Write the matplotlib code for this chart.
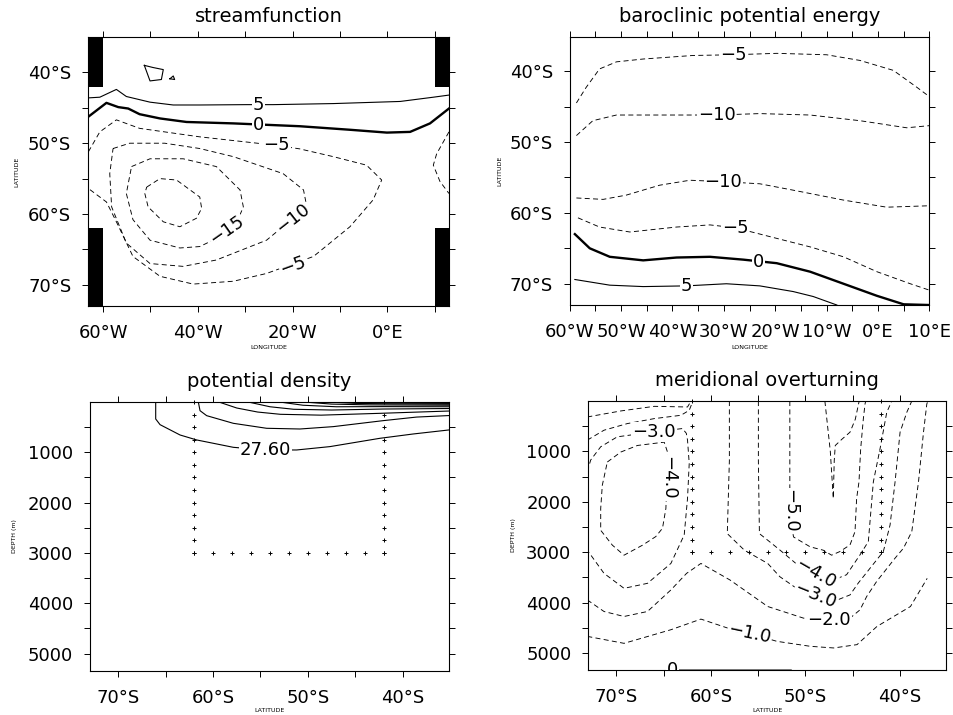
import matplotlib
matplotlib.use("Agg")
import matplotlib.pyplot as plt

plt.rcParams['font.family'] = ['DejaVu Sans']
plt.rcParams['lines.scale_dashes'] = False

# ---------------- streamfunction (lon, lat) ----------------
sf_c5 = [(-63.2, -43.6), (-60.7, -43.5), (-57.2, -42.4), (-55.1, -43.4), (-50.1, -44.2), (-45.2, -44.6),
         (-39.6, -44.6), (-29.7, -44.55), (-24.1, -44.55), (-11.4, -44.4), (2.7, -44.1), (9.7, -43.5), (13.0, -43.2)]
sf_c0 = [(-63.2, -46.3), (-59.3, -44.3), (-56.8, -44.9), (-54.7, -45.1), (-52.3, -45.9), (-48.0, -46.5),
         (-42.4, -47.0), (-32.5, -47.2), (-18.5, -47.6), (-7.9, -48.1), (-0.1, -48.5), (4.8, -48.4),
         (9.0, -47.2), (13.0, -45.1)]
sf_cm5 = [(-63.1, -51.2), (-60.7, -48.4), (-57.2, -46.7), (-52.3, -47.9), (-39.6, -49.1), (-23.4, -50.3),
          (-18.5, -50.8), (-11.4, -51.9), (-4.4, -53.1), (-1.2, -55.2), (-3.0, -58.0), (-7.9, -61.8),
          (-15.6, -66.0), (-25.5, -68.4), (-32.5, -69.5), (-41.0, -69.9), (-48.0, -68.8), (-53.7, -66.0),
          (-57.2, -61.1), (-59.3, -58.3), (-63.1, -56.4)]
sf_cm10 = [(-57.9, -50.75), (-54.4, -50.0), (-47.0, -50.0), (-39.6, -50.75), (-32.5, -51.9), (-22.0, -54.3),
           (-17.7, -56.6), (-17.0, -59.0), (-19.9, -60.6), (-25.5, -63.7), (-36.1, -66.5), (-43.1, -67.4),
           (-50.1, -67.0), (-55.1, -64.1), (-58.2, -59.0), (-58.6, -54.3), (-57.9, -50.75)]
sf_cm15 = [(-54.0, -53.3), (-50.1, -52.2), (-43.1, -52.2), (-36.1, -53.3), (-31.1, -56.6), (-30.4, -59.0),
           (-32.5, -62.3), (-39.6, -64.6), (-43.8, -64.8), (-50.1, -63.7), (-53.7, -60.8), (-55.1, -57.1),
           (-54.0, -53.3)]
sf_cm20 = [(-50.8, -56.2), (-48.0, -55.0), (-44.5, -55.2), (-39.6, -57.6), (-39.2, -59.2), (-40.3, -60.6),
           (-43.8, -61.8), (-47.3, -61.1), (-50.5, -59.0), (-51.2, -57.1), (-50.8, -56.2)]
sf_east = [(13.0, -48.4), (10.4, -51.5), (9.7, -53.1), (11.1, -55.4), (13.0, -57.1)]
sf_island = [(-51.3, -39.0), (-49.5, -39.3), (-47.3, -39.6), (-47.7, -41.0), (-50.1, -41.2), (-51.3, -39.0)]
sf_islet = [(-45.9, -40.9), (-45.2, -40.5), (-44.9, -41.0), (-45.9, -40.9)]
sf_land_lon = [(-63.2, -60.0), (10.0, 13.0)]
sf_land_lat = [(-42.0, -35.0), (-73.0, -62.0)]
sf_labels = [("5", -27.25, -44.65, 0), ("0", -27.25, -47.46, 0), ("\u22125", -23.4, -50.2, 0),
             ("\u221215", -33.9, -62.2, 35), ("\u221210", -19.9, -60.6, 38), ("\u22125", -19.9, -67.3, 20)]

# ---------------- baroclinic potential energy (lon, lat) ----------------
bpe_m5a = [(-58.7, -44.5), (-56.8, -42.3), (-54.2, -39.7), (-50.9, -38.7), (-45.7, -38.3), (-36.0, -37.8),
           (-28.2, -37.7), (-19.7, -37.5), (-10.0, -37.7), (-3.5, -38.5), (3.0, -39.9), (7.6, -42.3), (10.0, -43.6)]
bpe_m10a = [(-58.7, -49.1), (-55.5, -47.0), (-50.9, -46.2), (-42.5, -46.2), (-31.4, -46.2), (-23.0, -46.0),
            (-13.2, -46.2), (-3.5, -47.0), (5.6, -48.0), (10.0, -47.7)]
bpe_m10b = [(-58.7, -57.9), (-53.5, -58.1), (-49.0, -57.5), (-42.5, -56.1), (-36.6, -55.4), (-30.1, -55.6),
            (-23.0, -55.9), (-16.5, -56.8), (-6.7, -58.2), (1.7, -59.2), (10.0, -59.0)]
bpe_m5b = [(-58.4, -60.7), (-54.2, -62.0), (-48.3, -62.7), (-39.2, -62.0), (-32.7, -61.7), (-27.8, -62.1),
           (-19.7, -63.6), (-13.2, -64.8), (-6.7, -66.2), (-0.2, -68.3), (6.3, -70.0), (10.0, -70.9)]
bpe_c0 = [(-59.0, -63.0), (-56.1, -65.0), (-52.2, -66.2), (-45.7, -66.7), (-39.2, -66.3), (-32.7, -66.2),
          (-26.2, -66.6), (-19.7, -67.1), (-13.2, -68.3), (-6.7, -70.0), (-0.2, -71.7), (5.0, -72.9), (10.0, -73.0)]
bpe_c5 = [(-59.0, -69.4), (-52.2, -70.2), (-45.7, -70.4), (-37.3, -70.3), (-29.5, -70.0), (-23.0, -70.3),
          (-16.5, -71.1), (-12.6, -71.8), (-8.0, -73.0)]
bpe_labels = [("\u22125", -28.2, -37.8, 0), ("\u221210", -31.4, -46.15, 0), ("\u221210", -30.1, -55.6, 0),
              ("\u22125", -27.8, -62.1, 0), ("0", -23.3, -66.9, 0), ("5", -37.3, -70.3, 0)]

# ---------------- potential density (lat, depth) ----------------
rho_a = [(-66.06, 0), (-66.06, 338), (-65.6, 451), (-63.49, 656), (-61.73, 755), (-59.98, 821), (-57.87, 901),
         (-54.52, 954), (-51.18, 954), (-47.66, 887), (-42.39, 722), (-38.87, 636), (-35.1, 556)]
rho_b = [(-61.56, 0), (-61.38, 173), (-60.68, 272), (-57.87, 424), (-54.35, 523), (-50.83, 537),
         (-47.31, 490), (-42.04, 371), (-38.52, 300), (-35.1, 270)]
rho_c = [(-59.4, 0), (-57.5, 120), (-55.3, 200), (-52.9, 245), (-48.6, 262), (-42.3, 225), (-35.1, 180)]
rho_d = [(-56.3, 0), (-54.0, 95), (-51.5, 145), (-47.5, 160), (-42.0, 140), (-35.1, 130)]
rho_e = [(-53.0, 0), (-50.5, 65), (-47.0, 95), (-42.0, 92), (-35.1, 95)]
rho_f = [(-50.5, 0), (-47.5, 42), (-43.5, 58), (-35.1, 65)]
rho_g = [(-48.0, 0), (-45.0, 28), (-41.0, 38), (-35.1, 45)]
rho_h = [(-46.0, 0), (-43.0, 18), (-35.1, 28)]
rho_i = [(-44.0, 0), (-41.0, 10), (-35.1, 15)]
rho_labels = [("27.60", -54.5, 954, 0)]

# ---------------- meridional overturning (lat, depth) ----------------
moc_m1a = [(-73.08, 316), (-69.54, 197), (-66.0, 105), (-62.47, 118), (-62.1, 0)]
moc_m2a = [(-73.08, 776), (-71.31, 579), (-68.83, 447), (-66.0, 349), (-63.17, 283), (-62.29, 184), (-61.9, 0)]
moc_m3a = [(-73.08, 1400), (-72.72, 1171), (-71.66, 908), (-69.9, 710), (-66.0, 612), (-63.0, 546),
           (-62.6, 640), (-62.47, 776), (-62.29, 1237), (-62.47, 1934), (-62.82, 2658), (-64.23, 3224),
           (-66.71, 3619), (-69.19, 3718), (-71.31, 3421), (-73.08, 2961)]
moc_m4a = [(-70.96, 1211), (-69.54, 1013), (-67.77, 882), (-64.94, 816), (-64.59, 1013), (-64.59, 1276),
           (-64.76, 2132), (-65.12, 2526), (-65.83, 2691), (-67.24, 2862), (-69.19, 3060), (-70.42, 2862),
           (-71.66, 2566), (-71.66, 2132), (-71.49, 1671), (-70.96, 1211)]
moc_m3b = [(-58.04, 0), (-58.04, 1184), (-58.26, 2632), (-56.45, 2961), (-53.98, 3224), (-52.7, 3487),
           (-50.93, 3718), (-48.99, 3895), (-47.04, 3981), (-45.27, 3849), (-44.39, 3612), (-41.74, 2987),
           (-41.03, 2461), (-40.5, 1605), (-39.97, 618), (-39.26, 224), (-38.73, 0)]
moc_m4b = [(-54.97, 0), (-54.97, 1184), (-54.86, 2632), (-53.98, 2763), (-52.67, 2961), (-50.58, 3290),
           (-48.81, 3454), (-47.04, 3553), (-45.63, 3448), (-44.21, 3053), (-43.33, 2790), (-42.8, 1605),
           (-42.09, 947), (-41.38, 224), (-40.85, 0)]
moc_m5 = [(-51.64, 0), (-51.64, 1869), (-51.6, 2300), (-51.25, 2698), (-49.48, 2895), (-48.1, 2961),
          (-47.22, 3060), (-46.33, 2987), (-45.27, 2856), (-44.74, 2592), (-44.57, 1934), (-44.32, 1605),
          (-44.14, 947), (-43.86, 355), (-43.68, 59), (-43.61, 0)]
moc_m6 = [(-47.93, 0), (-47.36, 987), (-47.04, 1934), (-46.94, 1184), (-46.83, 882), (-46.12, 757),
          (-45.27, 618), (-44.71, 362), (-44.3, 0)]
moc_m2b = [(-73.08, 3948), (-71.31, 4178), (-69.19, 4277), (-66.71, 4178), (-64.23, 3750), (-62.57, 3421),
           (-61.05, 3224), (-57.97, 3553), (-53.98, 4079), (-50.19, 4310), (-47.57, 4343), (-45.27, 4310),
           (-44.21, 4145), (-43.51, 3882), (-42.44, 3579), (-40.5, 3119), (-39.61, 2921), (-38.73, 2592),
           (-38.02, 1605), (-37.49, 618), (-37.14, 59), (-37.03, 0)]
moc_m1b = [(-73.08, 4672), (-69.19, 4810), (-64.23, 4540), (-61.05, 4329), (-58.22, 4507), (-55.75, 4619),
           (-53.02, 4770), (-49.48, 4869), (-47.0, 4902), (-44.53, 4836), (-42.41, 4474), (-38.87, 4079),
           (-37.1, 3520)]
moc_c0 = [(-63.8, 5330), (-51.5, 5330)]
moc_labels = [("\u22123.0", -66.0, 612, 0), ("\u22124.0", -64.5, 1526, -90), ("\u22125.0", -51.6, 2180, -90),
              ("\u22124.0", -48.9, 3430, -30), ("\u22123.0", -48.9, 3860, -22), ("\u22122.0", -47.5, 4343, 0),
              ("\u22121.0", -55.9, 4612, -12), ("0", -64.1, 5330, 0)]

# section box markers (lat, depth)
box_lats = [-62, -60, -58, -56, -54, -52, -50, -48, -46, -44, -42]
box_depths = [0, 250, 500, 750, 1000, 1250, 1500, 1750, 2000, 2250, 2500, 2750, 3000]

# ticks
lon_ticks1 = [-60, -40, -20, 0]
lon_labels1 = ['60°W', '40°W', '20°W', '0°E']
lon_minor1 = [-50, -30, -10, 10]
lon_ticks2 = [-60, -50, -40, -30, -20, -10, 0, 10]
lon_labels2 = ['60°W', '50°W', '40°W', '30°W', '20°W', '10°W', '0°E', '10°E']
lon_minor2 = [-55, -45, -35, -25, -15, -5, 5]
lat_ticks = [-70, -60, -50, -40]
lat_labels = ['70°S', '60°S', '50°S', '40°S']
lat_minor = [-65, -55, -45]
depth_ticks = [1000, 2000, 3000, 4000, 5000]
depth_minor = [500, 1500, 2500, 3500, 4500]

FS = 13


def line(ax, pts, kind):
    xs = [p[0] for p in pts]
    ys = [p[1] for p in pts]
    if kind == 'neg':
        ax.plot(xs, ys, color='k', lw=0.65, ls=(0, (3.6, 2.4)))
    elif kind == 'zero':
        ax.plot(xs, ys, color='k', lw=1.7)
    else:
        ax.plot(xs, ys, color='k', lw=0.8)


def labels(ax, items):
    for s, x, y, r in items:
        ax.text(x, y, s, rotation=r, ha='center', va='center', fontsize=FS, zorder=4,
                rotation_mode='anchor', clip_on=True,
                bbox=dict(fc='white', ec='none', pad=0.6))


def style(ax, title):
    for sp in ax.spines.values():
        sp.set_linewidth(0.8)
    ax.tick_params(which='both', direction='out', length=4, width=0.7, top=True, right=True,
                   left=True, labelsize=FS)
    ax.tick_params(axis='x', pad=9)
    ax.tick_params(axis='y', pad=8)
    ax.set_title(title, fontsize=14, pad=11)


fig = plt.figure(figsize=(9.54, 7.15), dpi=100)

# ---- panel 1 ----
ax1 = fig.add_axes([0.0922, 0.5720, 0.3784, 0.3762])
for lo in sf_land_lon:
    for la in sf_land_lat:
        ax1.fill_between(lo, la[0], la[1], color='k', lw=0)
line(ax1, sf_c5, 'pos')
line(ax1, sf_c0, 'zero')
for c in (sf_cm5, sf_cm10, sf_cm15, sf_cm20, sf_east):
    line(ax1, c, 'neg')
line(ax1, sf_island, 'pos')
line(ax1, sf_islet, 'pos')
labels(ax1, sf_labels)
ax1.set_xlim(-63.2, 13.0)
ax1.set_ylim(-73.0, -35.0)
ax1.set_xticks(lon_ticks1, lon_labels1)
ax1.set_xticks(lon_minor1, minor=True)
ax1.set_yticks(lat_ticks, lat_labels)
ax1.set_yticks(lat_minor, minor=True)
style(ax1, 'streamfunction')
ax1.set_xlabel('LONGITUDE', fontsize=4.5)
ax1.set_ylabel('LATITUDE', fontsize=4.5)
ax1.xaxis.set_label_coords(0.5, -0.145)
ax1.yaxis.set_label_coords(-0.191, 0.5)

# ---- panel 2 ----
ax2 = fig.add_axes([0.5972, 0.5734, 0.3769, 0.3748])
for c in (bpe_m5a, bpe_m10a, bpe_m10b, bpe_m5b):
    line(ax2, c, 'neg')
line(ax2, bpe_c0, 'zero')
line(ax2, bpe_c5, 'pos')
labels(ax2, bpe_labels)
ax2.set_xlim(-60, 10)
ax2.set_ylim(-73.0, -35.2)
ax2.set_xticks(lon_ticks2, lon_labels2)
ax2.set_xticks(lon_minor2, minor=True)
ax2.set_yticks(lat_ticks, lat_labels)
ax2.set_yticks(lat_minor, minor=True)
style(ax2, 'baroclinic potential energy')
ax2.set_xlabel('LONGITUDE', fontsize=4.5)
ax2.set_ylabel('LATITUDE', fontsize=4.5)
ax2.xaxis.set_label_coords(0.5, -0.149)
ax2.yaxis.set_label_coords(-0.188, 0.5)

# ---- panel 3 ----
ax3 = fig.add_axes([0.0943, 0.0620, 0.3763, 0.3758])
for c in (rho_a, rho_b, rho_c, rho_d, rho_e, rho_f, rho_g, rho_h, rho_i):
    line(ax3, c, 'pos')
labels(ax3, rho_labels)

# ---- panel 4 ----
ax4 = fig.add_axes([0.6164, 0.0629, 0.3753, 0.3762])
for c in (moc_m1a, moc_m2a, moc_m3a, moc_m4a, moc_m3b, moc_m4b, moc_m5, moc_m6, moc_m2b, moc_m1b):
    line(ax4, c, 'neg')
ax4.plot([p[0] for p in moc_c0], [p[1] for p in moc_c0], color='0.35', lw=1.1, clip_on=False)
labels(ax4, moc_labels)

for ax, title in ((ax3, 'potential density'), (ax4, 'meridional overturning')):
    ax.plot([box_lats[0]] * len(box_depths), box_depths, '+', color='k', ms=3.5, mew=0.7, clip_on=False, zorder=5)
    ax.plot([box_lats[-1]] * len(box_depths), box_depths, '+', color='k', ms=3.5, mew=0.7, clip_on=False, zorder=5)
    ax.plot(box_lats, [box_depths[-1]] * len(box_lats), '+', color='k', ms=3.5, mew=0.7, clip_on=False, zorder=5)
    ax.set_xlim(-73.0, -35.1)
    ax.set_ylim(5340, 0)
    ax.set_xticks(lat_ticks, lat_labels)
    ax.set_xticks(lat_minor, minor=True)
    ax.set_yticks(depth_ticks, [str(d) for d in depth_ticks])
    ax.set_yticks(depth_minor, minor=True)
    style(ax, title)
    ax.set_xlabel('LATITUDE', fontsize=4.5)
    ax.set_ylabel('DEPTH (m)', fontsize=4.5)
    ax.xaxis.set_label_coords(0.5, -0.14)
    ax.yaxis.set_label_coords(-0.202, 0.5)

fig.savefig('out.png', dpi=100, facecolor='white')
